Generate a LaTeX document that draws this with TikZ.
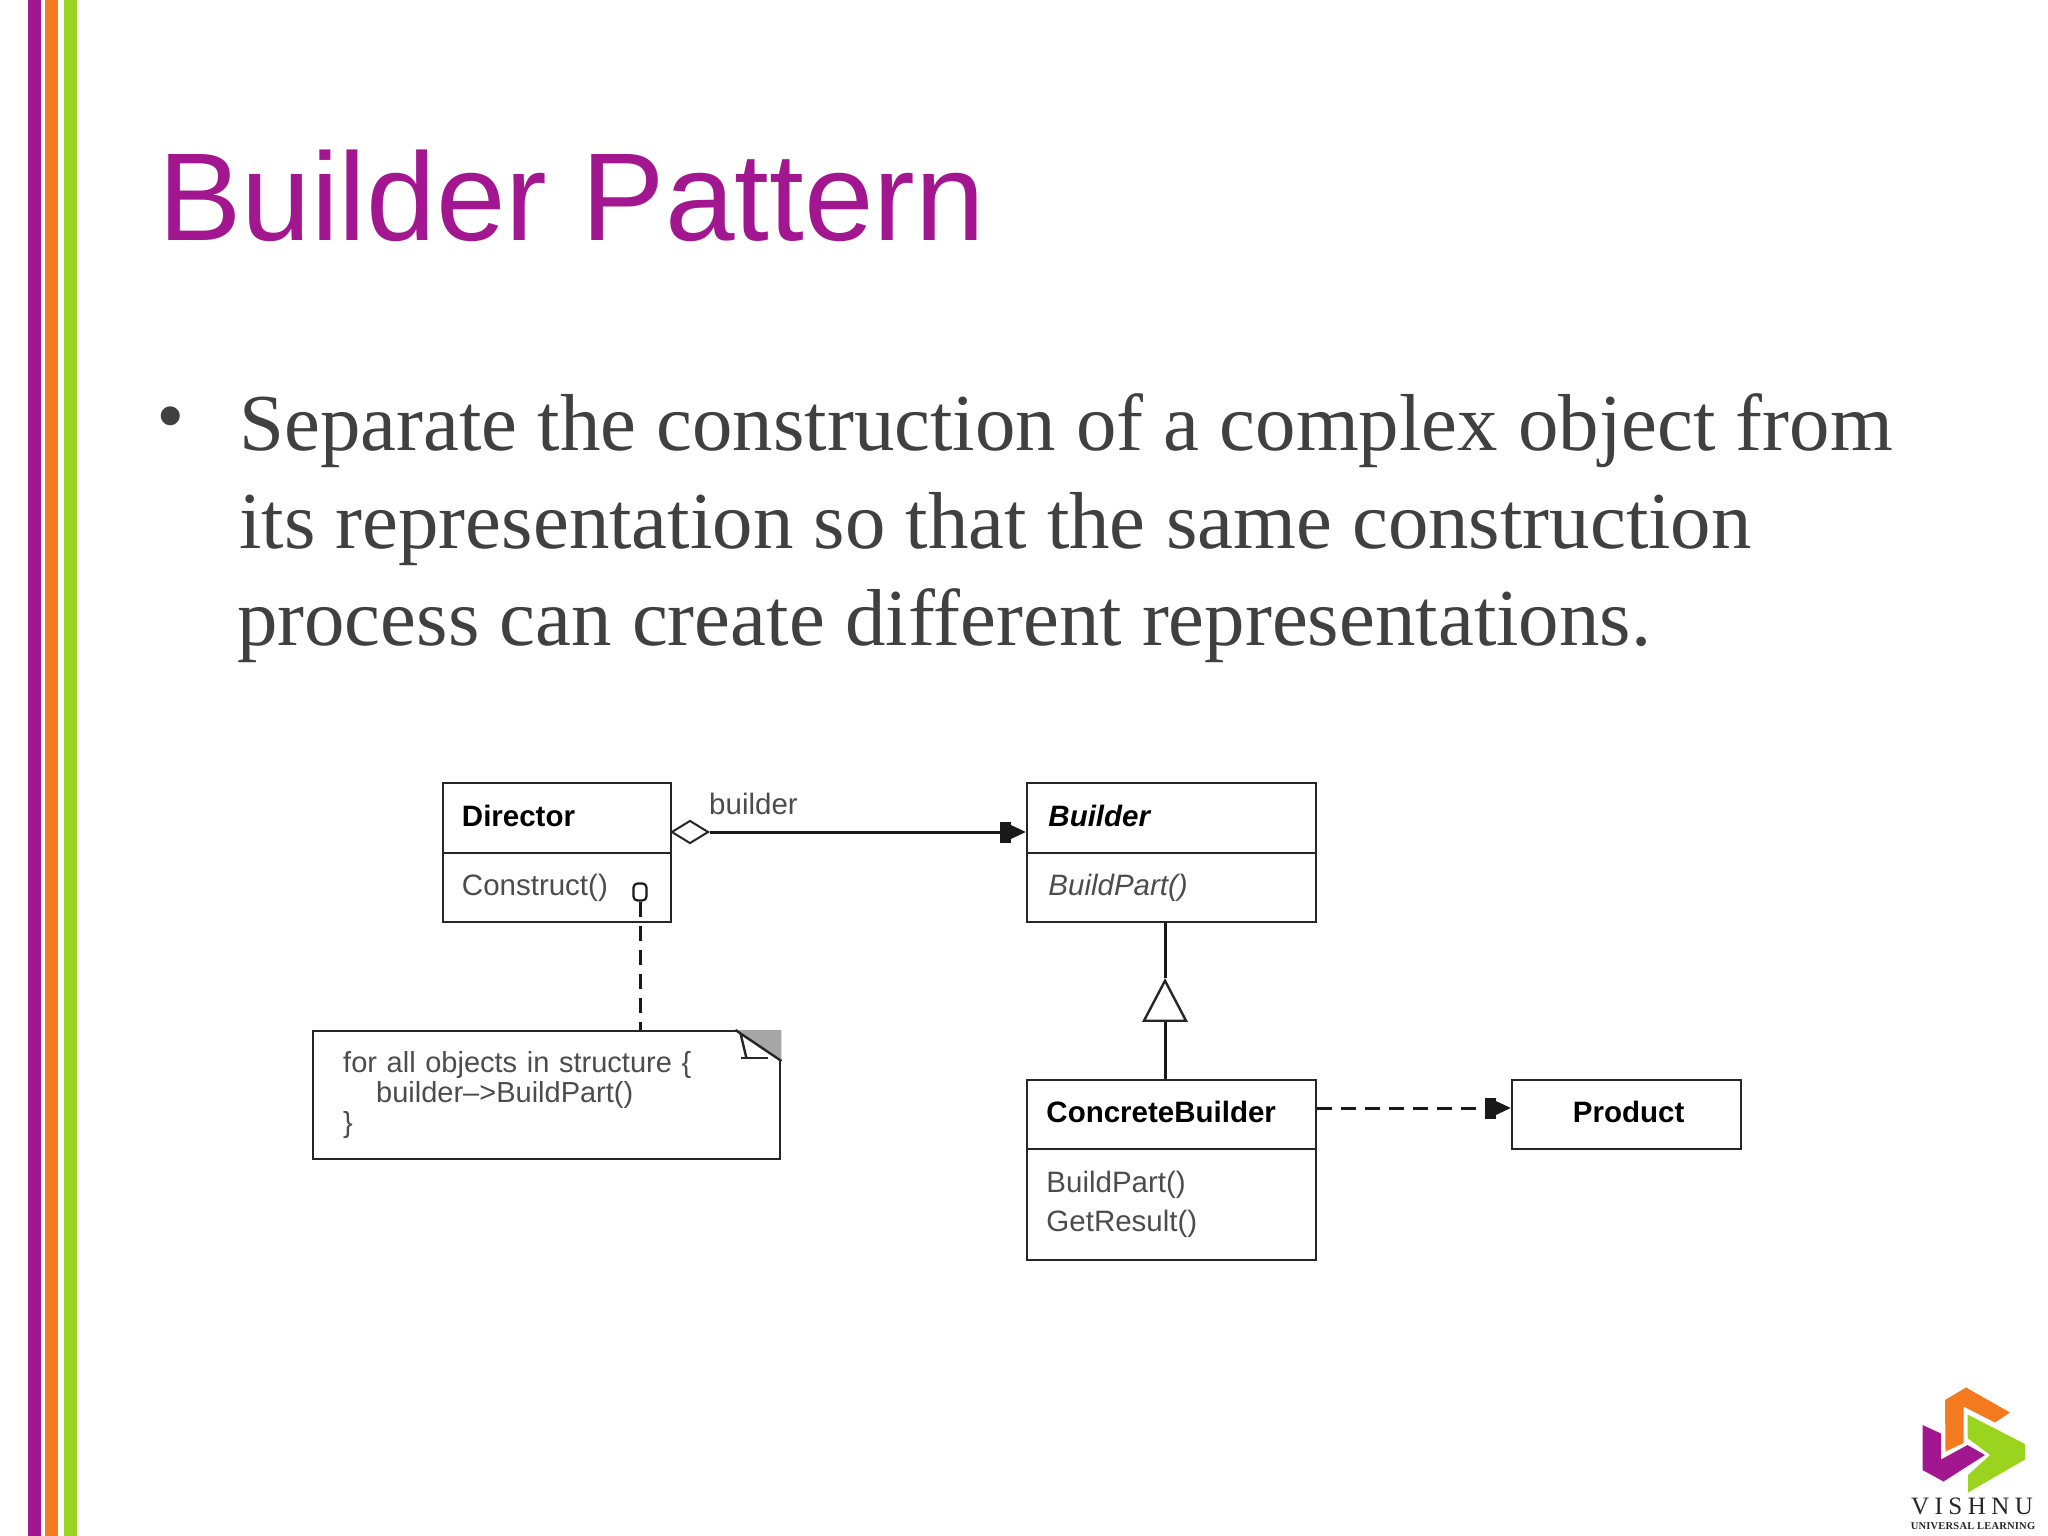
\documentclass[tikz,border=0pt]{standalone}
\usepackage{fontspec}
\setmainfont{Liberation Sans}
\newfontfamily\bodyfont{Liberation Serif}
\newfontfamily\logofont[LetterSpace=22]{Liberation Serif}
\newfontfamily\logosmall[LetterSpace=2]{Liberation Serif}
\usetikzlibrary{arrows.meta, shapes.geometric}
\definecolor{slidepurple}{HTML}{A2168F}
\definecolor{slideorange}{HTML}{F47A1F}
\definecolor{slidegreen}{HTML}{9BD41E}
\definecolor{bodygray}{HTML}{404040}
\tikzset{
    titletext/.style={anchor=base west, inner sep=0pt, text=slidepurple, font=\fontsize{125}{125}\selectfont},
    bodytext/.style={anchor=base west, inner sep=0pt, text=bodygray, font=\bodyfont\fontsize{80.8}{81}\selectfont},
    classbox/.style={draw=black!85, line width=2.4pt, anchor=north west, align=left, inner xsep=19pt, inner ysep=0pt, text=black!70, font=\fontsize{29.5}{39}\selectfont},
    namefont/.style={text=black, text depth=5pt, font=\bfseries\fontsize{29.5}{39}\selectfont},
    link/.style={draw=black!90, line width=3pt},
    tipfilled/.style={-{Square[length=11pt, width=21pt, sep=0pt]Triangle[length=15pt, width=13pt]}},
    dashlink/.style={link, dash pattern=on 15pt off 9pt}
}
\begin{document}
\begin{tikzpicture}[x=1pt, y=-1pt]
    \useasboundingbox (0,0) rectangle (2048,1536);

    % Stripes on the left
    \fill[slidepurple] (28,0) rectangle (41,1536);
    \fill[slideorange] (45,0) rectangle (58,1536);
    \fill[slidegreen] (64,0) rectangle (77,1536);

    % Title and bullet text
    \node[titletext] (title) at (158,240) {Builder Pattern};
    \node[anchor=center, inner sep=0pt, text=bodygray, font=\fontsize{70}{70}\selectfont] (bullet) at (171,423) {•};
    \node[bodytext] (line1) at (239,450) {Separate the construction of a complex object from};
    \node[bodytext] (line2) at (239,548) {its representation so that the same construction};
    \node[bodytext] (line3) at (237,645) {process can create different representations.};

    % Director
    \node[classbox, namefont, minimum width=228.5pt, minimum height=69.5pt, text width=190pt] (dirhead) at (441.5,782) {Director};
    \node[classbox, minimum width=228.5pt, minimum height=69.5pt, text width=190pt] (dirbody) at (441.5,851.5) {Construct()};

    % Builder
    \node[classbox, namefont, minimum width=288.5pt, minimum height=69.5pt, text width=250pt] (bldhead) at (1026,782) {\hspace*{2pt}\textit{Builder}};
    \node[classbox, minimum width=288.5pt, minimum height=69.5pt, text width=250pt] (bldbody) at (1026,851.5) {\hspace*{2pt}\textit{BuildPart()}};

    % ConcreteBuilder
    \node[classbox, namefont, minimum width=288.5pt, minimum height=69pt, text width=250pt] (cbhead) at (1026,1079) {ConcreteBuilder};
    \node[classbox, minimum width=288.5pt, minimum height=111pt, text width=250pt] (cbbody) at (1026,1148) {BuildPart()\\GetResult()};

    % Product
    \node[classbox, namefont, align=center, minimum width=229pt, minimum height=69pt, text width=190pt] (product) at (1511,1079) {\hspace*{4pt}Product};

    % Note with folded corner
    \node[classbox, minimum width=467pt, minimum height=128pt, text width=407pt, inner xsep=30pt, inner ysep=0pt, font=\fontsize{29}{30}\selectfont] (note) at (312,1030)
        {for all objects in structure \{\\\hspace*{33pt}builder–>BuildPart()\\\}};
    \fill[black!35] (note.north east) -- ++(-44,0) -- ++(44,31) -- cycle;
    \draw[black!85, line width=2.4pt] (note.north east) ++(-46,0) -- ++(46,31) ++(-35,-3) -- ++(-6,-25);
    \draw[black!85, line width=2.4pt] (note.north east) ++(-40,28) -- ++(27,0);

    % Aggregation with role name
    \node[diamond, draw=black!85, fill=white, line width=2pt, inner sep=0pt, minimum width=37pt, minimum height=23pt] (aggr) at (690,832) {};
    \node[anchor=west, inner sep=0pt, text=black!70, font=\fontsize{29.5}{39}\selectfont] (role) at (709,804) {builder};
    \draw[link, tipfilled] (aggr.east) -- (aggr.east -| bldhead.west);

    % Inheritance
    \node[isosceles triangle, isosceles triangle stretches, shape border rotate=90, draw=black!85, fill=white, line width=2.4pt, inner sep=0pt, minimum width=42pt, minimum height=40pt] (gen) at (1165,1008) {};
    \draw[link] (gen.apex |- bldbody.south) -- (gen.apex);
    \draw[link] (gen.lower side) -- (gen.lower side |- cbhead.north);

    % Dependency on the product
    \coordinate (cbout) at (cbhead.east |- 0,1108);
    \draw[dashlink, tipfilled] (cbout) -- (cbout -| product.west);

    % Note anchor in Construct()
    \node[draw=black!90, fill=white, rounded corners=4pt, line width=2.2pt, inner sep=0pt, minimum width=13pt, minimum height=17pt] (anchorpt) at (640,892) {};
    \draw[dashlink] (anchorpt.south) -- (anchorpt.south |- note.north);

    % Logo
    \fill[slideorange] (1945,1400) -- (1966,1387.5) -- (2010,1412.5) -- (1995,1422.5) -- (1963.5,1406.5) -- (1963.5,1443) -- (1945.5,1451.5) -- cycle;
    \fill[slidegreen] (1967.5,1414.5) -- (2025,1444) -- (2025,1459.5) -- (1968,1492.5) -- (1968,1475) -- (1990,1455) -- (1967.5,1438) -- cycle;
    \fill[slidepurple] (1922.5,1425) -- (1941,1433.5) -- (1941,1459.5) -- (1967.5,1445) -- (1985,1455) -- (1943.5,1481.5) -- (1922.5,1470) -- cycle;
    \node[anchor=base, inner sep=0pt, text=black!85, font=\logofont\fontsize{25}{25}\selectfont] (logoname) at (1972,1514) {VISHNU};
    \node[anchor=base, inner sep=0pt, text=black!85, font=\logosmall\bfseries\fontsize{10.5}{10.5}\selectfont] (logosub) at (1973,1529) {UNIVERSAL LEARNING};
\end{tikzpicture}
\end{document}
